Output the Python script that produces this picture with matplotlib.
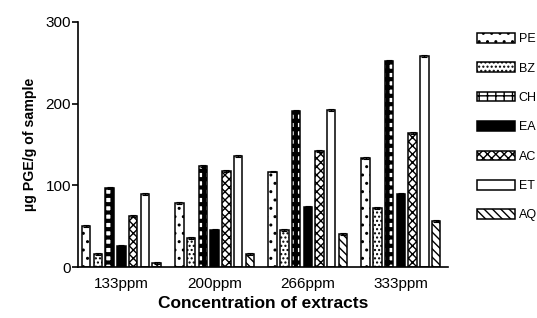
import numpy as np
import matplotlib
matplotlib.use('Agg')
from matplotlib import pyplot as plt

plt.rcParams['font.family'] = ['Liberation Sans', 'DejaVu Sans']

groups = ['133ppm', '200ppm', '266ppm', '333ppm']
series = ['PE', 'BZ', 'CH', 'EA', 'AC', 'ET', 'AQ']
PE = [50, 78, 117, 134]
BZ = [16, 36, 46, 72]
CH = [97, 124, 191, 252]
EA = [26, 46, 74, 90]
AC = [62, 118, 142, 164]
ET = [90, 136, 192, 258]
AQ = [5, 16, 40, 56]
values = [PE, BZ, CH, EA, AC, ET, AQ]

hatches = ['..', '....', '++', '', 'xxxx', '', '\\\\\\\\']
hatch_lw = [1.0, 1.0, 3.0, 1.0, 1.0, 1.0, 1.0]
faces = ['white', 'white', 'white', 'black', 'white', 'white', 'white']

fig = plt.figure(figsize=(5.37, 3.18), dpi=100)
ax = fig.add_axes([0.145, 0.16, 0.69, 0.771])

x = np.arange(len(groups))
step = 0.126
width = 0.091
for j, (name, vals) in enumerate(zip(series, values)):
    with plt.rc_context({'hatch.linewidth': hatch_lw[j]}):
        ax.bar(x + (j - 3) * step, vals, width, color=faces[j], edgecolor='black',
               hatch=hatches[j], linewidth=1.1, label=name,
               yerr=1.2, capsize=2, error_kw=dict(elinewidth=0.8, capthick=0.8))

ax.set_xlim(-0.468, 3.51)
ax.set_ylim(0, 300)
ax.set_yticks([0, 100, 200, 300])
ax.set_xticks(x)
ax.set_xticklabels(groups, fontsize=11)
ax.tick_params(axis='x', length=0, pad=7)
ax.tick_params(axis='y', labelsize=11, length=4, width=1.2, pad=1)
for s in ['top', 'right']:
    ax.spines[s].set_visible(False)
for s in ['left', 'bottom']:
    ax.spines[s].set_linewidth(1.2)

ax.set_xlabel('Concentration of extracts', fontsize=12.5, fontweight='bold', labelpad=4)
ax.set_ylabel('µg PGE/g of sample', fontsize=10.2, fontweight='bold', labelpad=6)

ax.legend(loc='upper left', bbox_to_anchor=(1.065, 0.975), frameon=False,
          fontsize=9, handlelength=3.0, handleheight=0.8, labelspacing=1.38,
          handletextpad=0.3, borderaxespad=0)

fig.savefig('out.png', dpi=100)
